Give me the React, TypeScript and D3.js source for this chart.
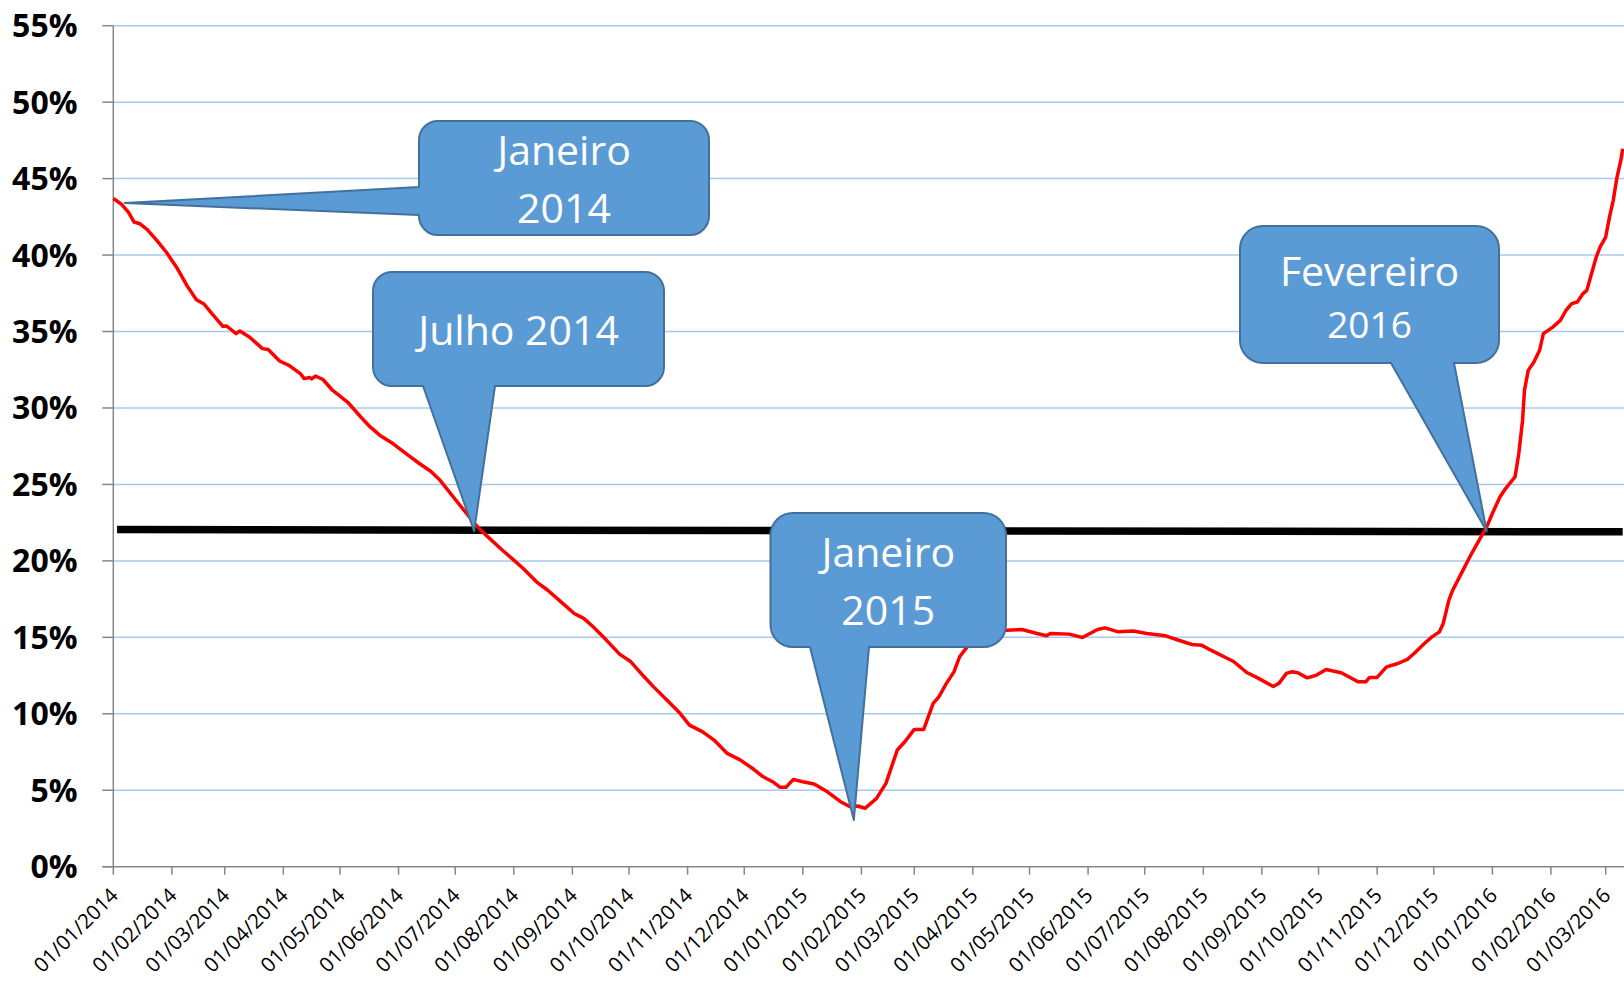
import React from "react";
import * as d3 from "d3";

// taxa (%), por data
const DATES = [
  "2014-01-01", "2014-01-05", "2014-01-09", "2014-01-12", "2014-01-15", "2014-01-19", "2014-01-24", "2014-01-29",
  "2014-02-04", "2014-02-09", "2014-02-14", "2014-02-18", "2014-02-22", "2014-02-28", "2014-03-02", "2014-03-07",
  "2014-03-09", "2014-03-14", "2014-03-21", "2014-03-24", "2014-03-30", "2014-04-04", "2014-04-10", "2014-04-12",
  "2014-04-15", "2014-04-16", "2014-04-18", "2014-04-22", "2014-04-27", "2014-05-05", "2014-05-12", "2014-05-17",
  "2014-05-22", "2014-05-29", "2014-06-05", "2014-06-12", "2014-06-18", "2014-06-23", "2014-06-30", "2014-07-07",
  "2014-07-12", "2014-07-18", "2014-07-26", "2014-08-01", "2014-08-06", "2014-08-13", "2014-08-19", "2014-08-26",
  "2014-09-02", "2014-09-07", "2014-09-12", "2014-09-19", "2014-09-26", "2014-10-02", "2014-10-09", "2014-10-14",
  "2014-10-21", "2014-10-28", "2014-11-02", "2014-11-09", "2014-11-15", "2014-11-22", "2014-11-29", "2014-12-06",
  "2014-12-11", "2014-12-16", "2014-12-20", "2014-12-23", "2014-12-27", "2015-01-01", "2015-01-07", "2015-01-14",
  "2015-01-21", "2015-01-26", "2015-01-30", "2015-02-03", "2015-02-09", "2015-02-14", "2015-02-20", "2015-02-24",
  "2015-03-01", "2015-03-06", "2015-03-11", "2015-03-14", "2015-03-18", "2015-03-22", "2015-03-25", "2015-03-29",
  "2015-04-04", "2015-04-10", "2015-04-19", "2015-04-27", "2015-05-05", "2015-05-10", "2015-05-12", "2015-05-22",
  "2015-05-29", "2015-06-06", "2015-06-10", "2015-06-17", "2015-06-25", "2015-07-02", "2015-07-12", "2015-07-19",
  "2015-07-26", "2015-07-31", "2015-08-05", "2015-08-17", "2015-08-24", "2015-08-29", "2015-09-07", "2015-09-10",
  "2015-09-14", "2015-09-17", "2015-09-20", "2015-09-25", "2015-09-30", "2015-10-05", "2015-10-13", "2015-10-17",
  "2015-10-22", "2015-10-26", "2015-10-28", "2015-11-01", "2015-11-06", "2015-11-12", "2015-11-17", "2015-11-21",
  "2015-11-26", "2015-11-30", "2015-12-04", "2015-12-06", "2015-12-09", "2015-12-11", "2015-12-16", "2015-12-21",
  "2015-12-26", "2015-12-29", "2016-01-01", "2016-01-05", "2016-01-08", "2016-01-13", "2016-01-15", "2016-01-17",
  "2016-01-18", "2016-01-20", "2016-01-23", "2016-01-26", "2016-01-28", "2016-02-02", "2016-02-06", "2016-02-09",
  "2016-02-12", "2016-02-15", "2016-02-18", "2016-02-20", "2016-02-22", "2016-02-25", "2016-02-27", "2016-03-01",
  "2016-03-03", "2016-03-05", "2016-03-07", "2016-03-09", "2016-03-10",
];

const RATE = [
  43.7, 43.36, 42.81, 42.16, 42.05, 41.66, 40.96, 40.2,
  39.1, 38.0, 37.08, 36.8, 36.2, 35.34, 35.36, 34.86,
  35.03, 34.64, 33.88, 33.82, 33.07, 32.79, 32.25, 31.92,
  31.99, 31.9, 32.09, 31.86, 31.16, 30.39, 29.41, 28.76,
  28.22, 27.67, 27.02, 26.37, 25.86, 25.27, 24.18, 23.1,
  22.33, 21.6, 20.7, 20.05, 19.5, 18.63, 18.08, 17.32,
  16.56, 16.24, 15.69, 14.82, 13.9, 13.4, 12.42, 11.76,
  10.9, 10.03, 9.26, 8.82, 8.28, 7.41, 6.97, 6.37,
  5.88, 5.56, 5.19, 5.19, 5.71, 5.56, 5.41, 4.9,
  4.25, 3.92, 3.97, 3.82, 4.47, 5.45, 7.63, 8.17,
  8.98, 8.98, 10.68, 11.11, 11.99, 12.74, 13.73, 14.38,
  14.92, 15.25, 15.47, 15.51, 15.25, 15.1, 15.25, 15.21,
  14.99, 15.51, 15.62, 15.36, 15.42, 15.25, 15.1, 14.81,
  14.53, 14.49, 14.16, 13.42, 12.7, 12.4, 11.79, 11.99,
  12.64, 12.75, 12.68, 12.35, 12.53, 12.9, 12.68, 12.42,
  12.09, 12.09, 12.38, 12.38, 13.07, 13.29, 13.56, 13.99,
  14.6, 15.03, 15.36, 15.91, 17.43, 18.08, 19.28, 20.48,
  21.57, 22.22, 23.1, 24.18, 24.73, 25.49, 27.02, 29.2,
  31.16, 32.46, 33.01, 33.77, 34.86, 35.29, 35.73, 36.39,
  36.82, 36.93, 37.48, 37.69, 38.56, 39.87, 40.52, 41.18,
  42.48, 43.58, 45.1, 46.19, 46.95,
];

// linha de referência (preta)
const REF_DATES = ["2014-01-03", "2016-03-10"];
const REF_RATE = [22.05, 21.9];

const X_TICKS = [
  "01/01/2014", "01/02/2014", "01/03/2014", "01/04/2014", "01/05/2014", "01/06/2014", "01/07/2014",
  "01/08/2014", "01/09/2014", "01/10/2014", "01/11/2014", "01/12/2014", "01/01/2015", "01/02/2015",
  "01/03/2015", "01/04/2015", "01/05/2015", "01/06/2015", "01/07/2015", "01/08/2015", "01/09/2015",
  "01/10/2015", "01/11/2015", "01/12/2015", "01/01/2016", "01/02/2016", "01/03/2016",
];
const Y_TICKS = [0, 5, 10, 15, 20, 25, 30, 35, 40, 45, 50, 55];

// balões: texto e ponto apontado
const NOTE_TEXT = [["Janeiro", "2014"], ["Julho 2014"], ["Janeiro", "2015"], ["Fevereiro", "2016"]];
const NOTE_DATES = ["2014-01-07", "2014-07-11", "2015-01-28", "2015-12-29"];
const NOTE_RATE = [43.4, 21.94, 3.05, 21.94];

// layout dos balões (px)
const NOTE_LAYOUT = [
  { x: 419, y: 121, w: 290, h: 114, side: "left", b1: 187, b2: 215, base: [165, 223], size: [41, 41] },
  { x: 373, y: 272, w: 291, h: 114, side: "bottom", b1: 423, b2: 495, base: [345], size: [41] },
  { x: 770.5, y: 513, w: 235.5, h: 134, side: "bottom", b1: 810, b2: 869, base: [567, 625], size: [41, 41] },
  { x: 1240, y: 226, w: 259, h: 137, side: "bottom", b1: 1391, b2: 1454, base: [286, 338], size: [41, 37] },
];

const WIDTH = 1624;
const HEIGHT = 983;
const FONT = "'Open Sans', 'DejaVu Sans', sans-serif";

const parseDay = d3.timeParse("%Y-%m-%d");
const parseTick = d3.timeParse("%d/%m/%Y");

function calloutPath(L: any, tx: number, ty: number) {
  const { x, y, w, h } = L;
  const r = Math.min(w, h) * 0.1667;
  const p = d3.path();
  p.moveTo(x + r, y);
  p.lineTo(x + w - r, y);
  p.arcTo(x + w, y, x + w, y + r, r);
  p.lineTo(x + w, y + h - r);
  p.arcTo(x + w, y + h, x + w - r, y + h, r);
  if (L.side === "bottom") {
    p.lineTo(L.b2, y + h);
    p.lineTo(tx, ty);
    p.lineTo(L.b1, y + h);
  }
  p.lineTo(x + r, y + h);
  p.arcTo(x, y + h, x, y + h - r, r);
  if (L.side === "left") {
    p.lineTo(x, L.b2);
    p.lineTo(tx, ty);
    p.lineTo(x, L.b1);
  }
  p.lineTo(x, y + r);
  p.arcTo(x, y, x + r, y, r);
  p.closePath();
  return p.toString();
}

export default function App() {
  const x = d3.scaleTime()
    .domain([parseDay("2014-01-01")!, parseDay("2016-03-01")!])
    .range([113.3, 1605.7]);
  const y = d3.scaleLinear().domain([0, 55]).range([866.7, 25.7]);

  const series = DATES.map((d, i) => ({ date: parseDay(d)!, v: RATE[i] }));
  const ref = REF_DATES.map((d, i) => ({ date: parseDay(d)!, v: REF_RATE[i] }));

  const line = d3.line<{ date: Date; v: number }>()
    .x(d => x(d.date))
    .y(d => y(d.v));

  const x0 = x.range()[0];
  const yBase = y(0);

  return (
    <svg
      width={WIDTH}
      height={HEIGHT}
      style={{ position: "absolute", left: 0, top: 0, background: "#fff" }}
      fontFamily={FONT}
    >
      <rect width={WIDTH} height={HEIGHT} fill="#fff" />

      {/* grade */}
      {Y_TICKS.filter(t => t > 0).map(t => (
        <line key={"g" + t} x1={x0} x2={WIDTH} y1={y(t)} y2={y(t)} stroke="#a9c8ee" strokeWidth={1.5} />
      ))}

      {/* eixo y */}
      <line x1={x0} x2={x0} y1={y(55)} y2={yBase} stroke="#878787" strokeWidth={1.5} />
      {Y_TICKS.map(t => (
        <g key={"y" + t}>
          <line x1={x0 - 11} x2={x0} y1={y(t)} y2={y(t)} stroke="#878787" strokeWidth={1.5} />
          <text x={77.5} y={y(t)} dy="0.36em" textAnchor="end" fontSize={32} fontWeight="bold" fill="#000">
            {t + "%"}
          </text>
        </g>
      ))}

      {/* eixo x */}
      <line x1={x0 - 11} x2={WIDTH} y1={yBase} y2={yBase} stroke="#878787" strokeWidth={1.5} />
      {X_TICKS.map(t => {
        const tx = x(parseTick(t)!);
        return (
          <g key={"x" + t}>
            <line x1={tx} x2={tx} y1={yBase} y2={yBase + 8} stroke="#878787" strokeWidth={1.5} />
            <text
              transform={`translate(${tx + 1},${yBase + 25}) rotate(-45)`}
              dy="0.35em"
              textAnchor="end"
              fontSize={20.5}
              fill="#000"
            >
              {t}
            </text>
          </g>
        );
      })}

      {/* séries */}
      <path d={line(ref)!} fill="none" stroke="#000" strokeWidth={7.5} />
      <path d={line(series)!} fill="none" stroke="#ff0000" strokeWidth={3.5} strokeLinejoin="round" />

      {/* balões */}
      {NOTE_LAYOUT.map((L, i) => {
        const tx = x(parseDay(NOTE_DATES[i])!);
        const ty = y(NOTE_RATE[i]);
        return (
          <g key={"n" + i}>
            <path d={calloutPath(L, tx, ty)} fill="#5b9bd5" stroke="#41719c" strokeWidth={2} strokeLinejoin="round" />
            {NOTE_TEXT[i].map((s, j) => (
              <text
                key={j}
                x={L.x + L.w / 2}
                y={L.base[j]}
                textAnchor="middle"
                fontSize={L.size[j]}
                fill="#fff"
              >
                {s}
              </text>
            ))}
          </g>
        );
      })}
    </svg>
  );
}
